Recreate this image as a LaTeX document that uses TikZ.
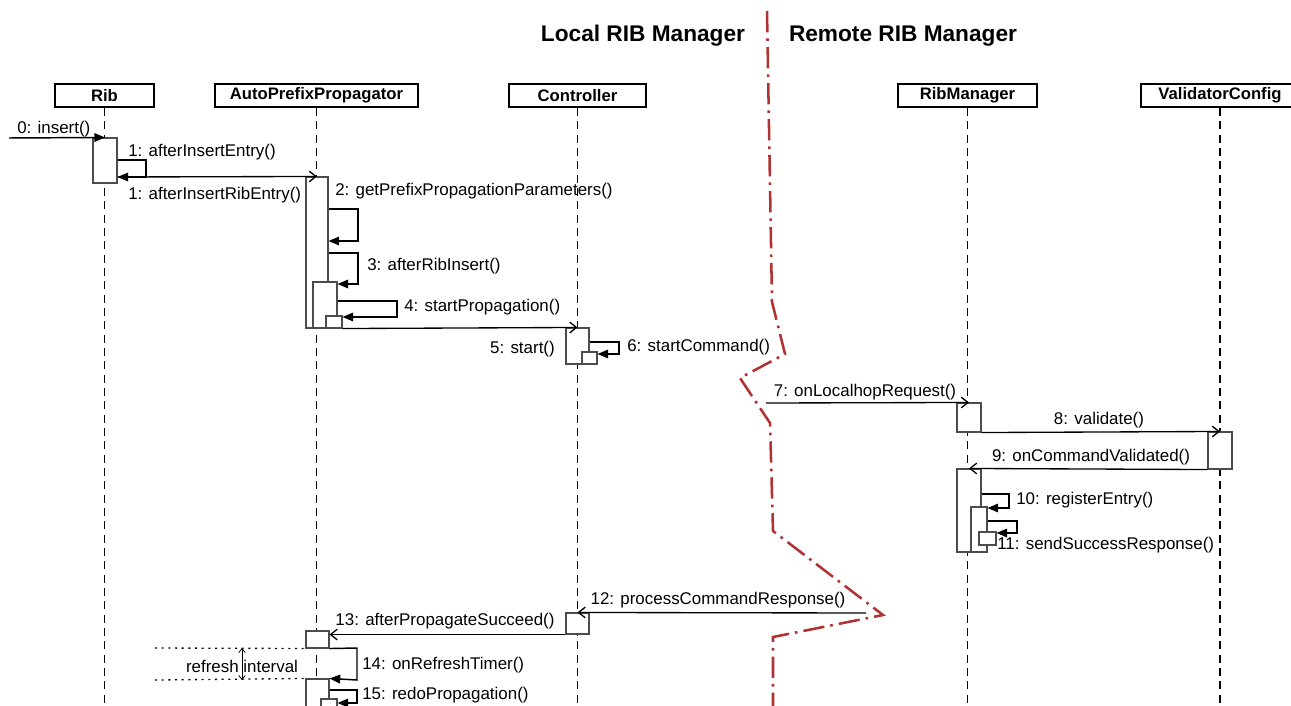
\documentclass[tikz,border=0pt]{standalone}
\usepackage{fontspec}
\setmainfont{Liberation Sans}
\usetikzlibrary{arrows.meta,fit}

\definecolor{divred}{RGB}{176,50,50}

\begin{document}
\begin{tikzpicture}[x=0.75pt,y=-0.75pt,
	objbox/.style={draw,line width=1.4pt,minimum height=17.25pt,inner sep=0pt,font=\fontsize{12.5}{14}\selectfont\bfseries},
	lifeline/.style={line width=1.1pt,dash pattern=on 6pt off 4pt},
	actbar/.style={draw=black!70,fill=white,line width=0.8pt,inner sep=0pt},
	call/.style={line width=1.1pt,-{Triangle[length=8pt,width=6.5pt]}},
	msg/.style={line width=1pt,-{Straight Barb[length=5pt,width=8pt]}},
	lbl/.style={font=\fontsize{12.7}{14}\selectfont,inner sep=0pt},
	title/.style={font=\fontsize{17}{20}\selectfont\bfseries,inner sep=0pt}]

	\useasboundingbox (0,0) rectangle (1291,706);

	% titles
	\node[title] (localtitle) at (643,36) {Local RIB Manager};
	\node[title] (remotetitle) at (903,36) {Remote RIB Manager};

	% objects
	\node[objbox,minimum width=74.25pt] (rib) at (104.5,95.5) {Rib};
	\node[objbox,minimum width=152.25pt] (app) at (316.5,95.5) {AutoPrefixPropagator};
	\node[objbox,minimum width=102.75pt] (ctl) at (577.5,95.5) {Controller};
	\node[objbox,minimum width=104.25pt] (rm) at (967.5,95.5) {RibManager};
	\node[objbox,minimum width=118.5pt] (vc) at (1220,95.5) {ValidatorConfig};

	\draw[lifeline] (rib.south) -- (rib.south |- 0,706);
	\draw[lifeline] (app.south) -- (app.south |- 0,706);
	\draw[lifeline] (ctl.south) -- (ctl.south |- 0,706);
	\draw[lifeline] (rm.south) -- (rm.south |- 0,706);
	\draw[lifeline] (vc.south) -- (vc.south |- 0,706);

	% boundary
	\draw[divred,line width=1.9pt,dash pattern=on 16pt off 4.5pt on 2pt off 4.5pt]
		(767,11) -- (772,302) -- (785,354) -- (740,378) -- (770,423) -- (773,531)
		-- (883,615) -- (773,637) -- (773,706);

	% activations
	\node[actbar,fit={(93,138) (117,183)}] (ribA) {};
	\node[actbar,fit={(306,177) (328,328)}] (appA) {};
	\node[actbar,fit={(313,282) (337,328)}] (appB) {};
	\node[actbar,fit={(326,316) (342,328)}] (appC) {};
	\node[actbar,fit={(566,328) (589,364)}] (ctlA) {};
	\node[actbar,fit={(582,352) (597,364)}] (ctlB) {};
	\node[actbar,fit={(957,403) (981,432)}] (rmA) {};
	\node[actbar,fit={(1208,432) (1232,469)}] (vcA) {};
	\node[actbar,fit={(957,469) (981,552)}] (rmB) {};
	\node[actbar,fit={(971,507) (987,552)}] (rmC) {};
	\node[actbar,fit={(979,532) (996,545)}] (rmD) {};
	\node[actbar,fit={(566,613) (589,634)}] (ctlC) {};
	\node[actbar,fit={(306,631) (329,648)}] (appD) {};
	\node[actbar,fit={(306,679) (329,716)}] (appE) {};
	\node[actbar,fit={(321,699) (337,716)}] (appF) {};

	% messages
	\coordinate (entry) at (9,138);
	\draw[call] (entry) -- (ribA.north);
	\node[lbl,anchor=west] (l0) at (17,129) {0: insert()};

	\draw[call] (ribA.east |- 0,160) -- (146,160) -- (146,177) -- (ribA.east |- 0,177);
	\node[lbl,anchor=west] (l1a) at (128,152) {1: afterInsertEntry()};
	\draw[msg] (ribA.east |- 0,177) -- (appA.north);
	\node[lbl,anchor=west] (l1b) at (128,195) {1: afterInsertRibEntry()};

	\draw[call] (appA.east |- 0,209) -- (358,209) -- (358,241) -- (appA.east |- 0,241);
	\node[lbl,anchor=west] (l2) at (335,191) {2: getPrefixPropagationParameters()};
	\draw[call] (appA.east |- 0,253) -- (358,253) -- (358,284) -- (appB.east |- 0,284);
	\node[lbl,anchor=west] (l3) at (367,266) {3: afterRibInsert()};
	\draw[call] (appB.east |- 0,301) -- (397,301) -- (397,317) -- (appC.east |- 0,317);
	\node[lbl,anchor=west] (l4) at (404,307) {4: startPropagation()};

	\draw[msg] (appC.south east) -- (ctlA.north);
	\node[lbl,anchor=east] (l5) at (555,349) {5: start()};
	\draw[call] (ctlA.east |- 0,342) -- (619,342) -- (619,354) -- (ctlB.east |- 0,354);
	\node[lbl,anchor=west] (l6) at (627,347) {6: startCommand()};

	\coordinate (remotein) at (766,403);
	\draw[msg] (remotein) -- (rmA.north);
	\node[lbl] (l7) at (865,392) {7: onLocalhopRequest()};
	\draw[msg] (rmA.south east) -- (vcA.north);
	\node[lbl] (l8) at (1099,420) {8: validate()};
	\draw[msg] (vcA.south west) -- (rmB.north);
	\node[lbl] (l9) at (1091,457) {9: onCommandValidated()};
	\draw[call] (rmB.east |- 0,494) -- (1009,494) -- (1009,508) -- (rmC.east |- 0,508);
	\node[lbl,anchor=west] (l10) at (1016,500) {10: registerEntry()};
	\draw[call] (rmC.east |- 0,521) -- (1017,521) -- (1017,533) -- (rmD.east |- 0,533);
	\node[lbl,anchor=west] (l11) at (997,545) {11: sendSuccessResponse()};

	\coordinate (remoteout) at (866,613);
	\draw[msg] (remoteout) -- (ctlC.north);
	\node[lbl] (l12) at (718,600) {12: processCommandResponse()};
	\draw[msg] (ctlC.south west) -- (ctlC.south west -| appD.east);
	\node[lbl] (l13) at (445,621) {13: afterPropagateSucceed()};
	\draw[call] (appD.south east) -- (357,648) -- (357,680) -- (appE.north east);
	\node[lbl,anchor=west] (l14) at (362,665) {14: onRefreshTimer()};
	\draw[call] (appE.east |- 0,690) -- (357,690) -- (357,703) -- (appF.east |- 0,703);
	\node[lbl,anchor=west] (l15) at (362,695) {15: redoPropagation()};

	% refresh interval
	\coordinate (rtop) at (155,648);
	\coordinate (rbot) at (155,680);
	\draw[line width=1pt,dash pattern=on 1.5pt off 3.5pt] (rtop) -- (appD.south west);
	\draw[line width=1pt,dash pattern=on 1.5pt off 3.5pt] (rbot) -- (appE.north west);
	\draw[line width=0.6pt,{Straight Barb[length=3pt,width=5pt]}-{Straight Barb[length=3pt,width=5pt]}] (242,648) -- (242,680);
	\node[lbl] (lri) at (242,666) {refresh interval};
\end{tikzpicture}
\end{document}
